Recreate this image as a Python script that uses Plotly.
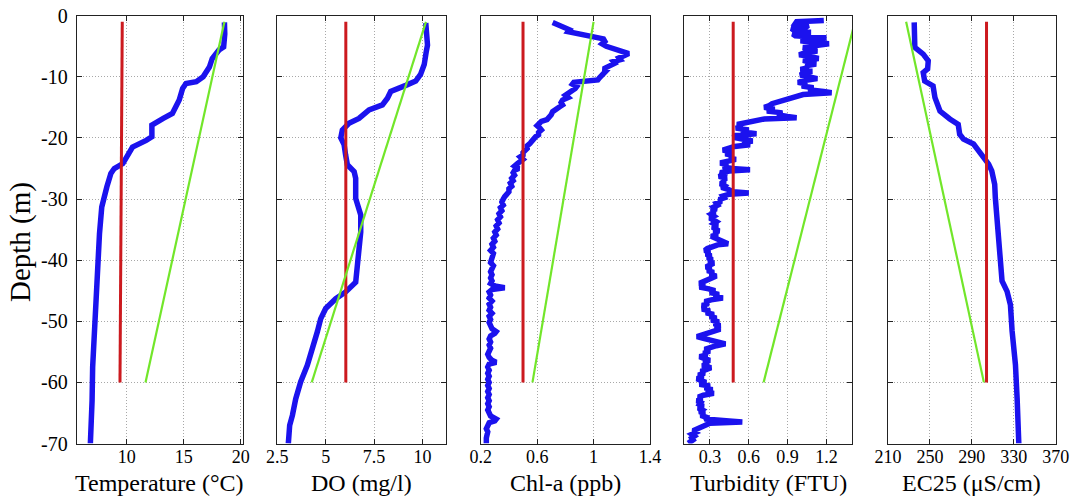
import plotly.graph_objects as go

# ---------------- data (depth in m, value) ----------------
temp_profile = [(-1.1, 18.57), (-3.0, 18.6), (-5.1, 18.5), (-5.6, 18.1), (-7.0, 17.5), (-8.4, 17.25),
                (-10.0, 16.7), (-10.8, 16.1), (-11.1, 15.2), (-11.9, 14.9), (-13.8, 14.6), (-16.0, 14.0),
                (-16.8, 13.2), (-17.6, 12.3), (-17.9, 12.2), (-19.8, 12.2), (-20.4, 11.7), (-21.5, 10.5),
                (-22.6, 10.1), (-24.2, 9.65), (-25.0, 8.9), (-25.8, 8.6), (-28.0, 8.25), (-30.2, 7.95),
                (-31.3, 7.8), (-35.7, 7.6), (-41.1, 7.45), (-46.6, 7.2), (-52.1, 7.1), (-57.5, 7.0),
                (-63.0, 6.95), (-70.0, 6.8)]

do_profile = [(-1.2, 10.17), (-2.6, 10.22), (-4.8, 10.26), (-5.8, 10.2), (-8.0, 10.09), (-9.6, 9.9),
              (-10.7, 9.65), (-11.4, 9.14), (-12.4, 8.36), (-13.5, 8.19), (-14.6, 7.93), (-15.4, 7.24),
              (-16.8, 6.72), (-17.6, 6.2), (-18.7, 5.86), (-20.0, 5.78), (-21.1, 5.95), (-22.8, 6.03),
              (-24.4, 6.12), (-25.5, 6.47), (-26.6, 6.55), (-29.9, 6.55), (-31.5, 6.67), (-32.6, 6.81),
              (-35.4, 6.81), (-38.1, 6.72), (-40.8, 6.64), (-43.6, 6.55), (-45.2, 6.03), (-46.3, 5.52),
              (-47.9, 5.0), (-49.6, 4.74), (-51.7, 4.57), (-54.5, 4.31), (-57.2, 4.05), (-59.9, 3.71),
              (-62.7, 3.45), (-65.4, 3.28), (-67.0, 3.14), (-70.0, 3.07)]

chl_profile = [(-1.1, 0.71), (-1.4, 0.74), (-1.8, 0.77), (-2.3, 0.83), (-2.6, 0.82), (-2.9, 0.89),
               (-3.2, 0.95), (-3.5, 0.98), (-3.8, 1.07), (-4.2, 1.08), (-4.6, 1.06), (-5.0, 1.09),
               (-5.3, 1.13), (-5.6, 1.18), (-5.9, 1.20), (-6.2, 1.25), (-6.5, 1.22), (-6.9, 1.18),
               (-7.2, 1.19), (-7.5, 1.14), (-7.8, 1.15), (-8.1, 1.12), (-8.4, 1.09), (-8.7, 1.07),
               (-9.0, 1.09), (-9.4, 1.07), (-9.8, 1.05), (-10.2, 1.04), (-10.5, 1.03), (-10.7, 0.95),
               (-10.9, 0.86), (-11.2, 0.85), (-11.6, 0.88), (-11.9, 0.87), (-12.3, 0.84), (-12.7, 0.82),
               (-13.0, 0.80), (-13.4, 0.82), (-13.8, 0.78), (-14.2, 0.77), (-14.6, 0.78), (-14.9, 0.76),
               (-15.3, 0.73), (-15.7, 0.71), (-16.2, 0.70), (-16.6, 0.68), (-17.0, 0.67), (-17.3, 0.63),
               (-17.6, 0.61), (-18.0, 0.60), (-18.4, 0.62), (-18.7, 0.63), (-19.1, 0.61), (-19.5, 0.61),
               (-19.8, 0.59), (-20.2, 0.57), (-20.6, 0.56), (-20.9, 0.55), (-21.3, 0.53), (-21.7, 0.53),
               (-22.0, 0.52), (-22.4, 0.50), (-22.8, 0.50), (-23.1, 0.48), (-23.5, 0.50), (-23.9, 0.47),
               (-24.2, 0.46), (-24.6, 0.44), (-25.0, 0.47), (-25.3, 0.44), (-25.7, 0.43), (-26.1, 0.44),
               (-26.6, 0.42), (-27.0, 0.43), (-27.4, 0.41), (-27.9, 0.42), (-28.3, 0.40), (-28.8, 0.40),
               (-29.2, 0.38), (-29.6, 0.37), (-30.0, 0.36), (-30.5, 0.35), (-31.0, 0.36), (-31.4, 0.34),
               (-31.9, 0.35), (-32.4, 0.33), (-32.9, 0.34), (-33.4, 0.32), (-33.9, 0.33), (-34.4, 0.31),
               (-34.9, 0.32), (-35.4, 0.30), (-35.9, 0.31), (-36.4, 0.29), (-36.9, 0.30), (-37.4, 0.28),
               (-37.9, 0.29), (-38.4, 0.27), (-38.9, 0.29), (-39.4, 0.28), (-39.9, 0.28), (-40.4, 0.27),
               (-40.9, 0.29), (-41.4, 0.28), (-41.9, 0.27), (-42.4, 0.28), (-42.9, 0.27), (-43.4, 0.28),
               (-43.8, 0.27), (-44.2, 0.30), (-44.5, 0.37), (-44.8, 0.28), (-45.2, 0.26), (-45.7, 0.27),
               (-46.2, 0.26), (-46.7, 0.28), (-47.2, 0.26), (-47.7, 0.27), (-48.2, 0.26), (-48.7, 0.28),
               (-49.2, 0.26), (-49.7, 0.27), (-50.2, 0.26), (-50.7, 0.27), (-51.2, 0.28), (-51.7, 0.31),
               (-52.0, 0.30), (-52.4, 0.27), (-52.9, 0.26), (-53.4, 0.27), (-53.9, 0.26), (-54.4, 0.27),
               (-54.9, 0.26), (-55.4, 0.25), (-55.9, 0.26), (-56.4, 0.28), (-56.7, 0.31), (-57.0, 0.26),
               (-57.5, 0.25), (-58.0, 0.26), (-58.5, 0.25), (-59.0, 0.26), (-59.5, 0.25), (-60.0, 0.26),
               (-60.5, 0.25), (-61.0, 0.26), (-61.5, 0.25), (-62.0, 0.26), (-62.5, 0.25), (-63.0, 0.26),
               (-63.5, 0.25), (-64.0, 0.26), (-64.5, 0.25), (-65.0, 0.26), (-65.5, 0.27), (-66.0, 0.31),
               (-66.3, 0.30), (-66.6, 0.26), (-67.1, 0.25), (-67.6, 0.24), (-68.1, 0.25), (-68.6, 0.24),
               (-69.1, 0.24), (-69.6, 0.24), (-70.0, 0.24)]

turb_profile = [(-0.8, 1.18), (-1.0, 0.97), (-1.3, 0.96), (-1.6, 1.06), (-1.9, 1.04), (-2.1, 0.93),
                (-2.4, 0.95), (-2.7, 1.08), (-3.0, 0.94), (-3.3, 0.96), (-3.6, 1.20), (-3.8, 1.10),
                (-4.1, 1.00), (-4.4, 1.10), (-4.6, 1.22), (-4.9, 1.12), (-5.2, 1.02), (-5.5, 1.06),
                (-5.8, 1.13), (-6.1, 1.03), (-6.4, 0.99), (-6.7, 1.08), (-7.0, 1.14), (-7.3, 1.02),
                (-7.6, 1.06), (-7.9, 1.12), (-8.2, 1.04), (-8.5, 1.06), (-8.8, 1.00), (-9.1, 1.09),
                (-9.4, 1.02), (-9.7, 1.00), (-10.0, 1.06), (-10.3, 1.13), (-10.6, 1.03), (-10.9, 0.98),
                (-11.2, 1.05), (-11.5, 1.01), (-11.8, 1.10), (-12.1, 1.06), (-12.4, 1.18), (-12.6, 1.24),
                (-12.9, 1.02), (-13.2, 0.97), (-13.5, 0.90), (-13.8, 0.88), (-14.1, 0.83), (-14.4, 0.78),
                (-14.7, 0.76), (-15.0, 0.72), (-15.3, 0.80), (-15.6, 0.74), (-15.9, 0.86), (-16.2, 0.82),
                (-16.5, 0.90), (-16.7, 0.97), (-16.9, 0.72), (-17.2, 0.64), (-17.5, 0.56), (-17.8, 0.51),
                (-18.1, 0.55), (-18.4, 0.50), (-18.7, 0.60), (-19.0, 0.54), (-19.3, 0.66), (-19.6, 0.50),
                (-19.9, 0.48), (-20.2, 0.57), (-20.5, 0.63), (-20.8, 0.55), (-21.1, 0.61), (-21.4, 0.49),
                (-21.7, 0.44), (-22.0, 0.40), (-22.3, 0.47), (-22.6, 0.42), (-22.9, 0.48), (-23.2, 0.45),
                (-23.5, 0.50), (-23.8, 0.41), (-24.1, 0.38), (-24.4, 0.44), (-24.7, 0.40), (-25.0, 0.47),
                (-25.2, 0.61), (-25.4, 0.45), (-25.7, 0.38), (-26.0, 0.40), (-26.3, 0.37), (-26.6, 0.43),
                (-26.9, 0.39), (-27.2, 0.42), (-27.5, 0.38), (-27.8, 0.41), (-28.1, 0.39), (-28.4, 0.44),
                (-28.8, 0.48), (-29.0, 0.60), (-29.2, 0.45), (-29.5, 0.40), (-29.8, 0.41), (-30.1, 0.37),
                (-30.4, 0.39), (-30.7, 0.35), (-31.0, 0.36), (-31.3, 0.33), (-31.6, 0.35), (-31.9, 0.31),
                (-32.2, 0.34), (-32.5, 0.31), (-32.8, 0.33), (-33.1, 0.30), (-33.4, 0.32), (-33.7, 0.35),
                (-34.0, 0.33), (-34.3, 0.36), (-34.6, 0.32), (-34.9, 0.35), (-35.2, 0.37), (-35.5, 0.33),
                (-35.8, 0.36), (-36.1, 0.31), (-36.4, 0.34), (-36.7, 0.38), (-37.0, 0.40), (-37.3, 0.44),
                (-37.5, 0.36), (-37.8, 0.31), (-38.1, 0.28), (-38.4, 0.26), (-38.7, 0.30), (-39.0, 0.27),
                (-39.3, 0.31), (-39.6, 0.28), (-39.9, 0.32), (-40.2, 0.29), (-40.5, 0.33), (-40.8, 0.30),
                (-41.1, 0.27), (-41.4, 0.31), (-41.7, 0.28), (-42.0, 0.33), (-42.3, 0.30), (-42.6, 0.35),
                (-42.9, 0.31), (-43.2, 0.28), (-43.5, 0.25), (-43.8, 0.22), (-44.1, 0.26), (-44.4, 0.22),
                (-44.7, 0.29), (-45.0, 0.34), (-45.3, 0.30), (-45.6, 0.37), (-45.9, 0.33), (-46.2, 0.40),
                (-46.5, 0.31), (-46.8, 0.26), (-47.1, 0.29), (-47.4, 0.24), (-47.7, 0.27), (-48.0, 0.24),
                (-48.3, 0.30), (-48.6, 0.27), (-48.9, 0.33), (-49.2, 0.30), (-49.5, 0.35), (-49.8, 0.31),
                (-50.1, 0.37), (-50.4, 0.33), (-50.7, 0.38), (-51.0, 0.34), (-51.3, 0.38), (-51.6, 0.33),
                (-51.9, 0.27), (-52.2, 0.22), (-52.5, 0.20), (-52.8, 0.25), (-53.1, 0.30), (-53.4, 0.36),
                (-53.7, 0.42), (-54.0, 0.35), (-54.3, 0.30), (-54.6, 0.26), (-54.9, 0.30), (-55.2, 0.25),
                (-55.5, 0.28), (-55.8, 0.22), (-56.1, 0.26), (-56.4, 0.30), (-56.7, 0.25), (-57.0, 0.29),
                (-57.3, 0.24), (-57.6, 0.31), (-57.9, 0.27), (-58.2, 0.23), (-58.5, 0.26), (-58.8, 0.21),
                (-59.1, 0.25), (-59.4, 0.20), (-59.7, 0.23), (-60.0, 0.27), (-60.3, 0.22), (-60.6, 0.30),
                (-60.9, 0.26), (-61.2, 0.32), (-61.5, 0.27), (-61.8, 0.33), (-62.1, 0.25), (-62.4, 0.21),
                (-62.7, 0.24), (-63.0, 0.20), (-63.3, 0.23), (-63.6, 0.22), (-63.9, 0.25), (-64.2, 0.21),
                (-64.5, 0.24), (-64.8, 0.22), (-65.1, 0.26), (-65.4, 0.23), (-65.7, 0.27), (-66.0, 0.26),
                (-66.3, 0.45), (-66.5, 0.55), (-66.7, 0.30), (-67.0, 0.26), (-67.3, 0.24), (-67.6, 0.19),
                (-67.9, 0.17), (-68.2, 0.19), (-68.5, 0.16), (-68.8, 0.18), (-69.1, 0.16), (-69.4, 0.17),
                (-69.7, 0.15), (-70.0, 0.16)]

ec_profile = [(-1.1, 235.0), (-5.2, 235.6), (-6.3, 243.6), (-7.4, 248.4), (-8.7, 247.8), (-9.3, 243.6),
              (-10.7, 245.0), (-11.5, 253.0), (-13.4, 254.8), (-15.6, 259.6), (-16.9, 269.0), (-17.8, 277.0),
              (-19.4, 278.4), (-20.2, 282.0), (-21.0, 291.6), (-22.7, 299.6), (-24.3, 306.0), (-25.4, 309.0),
              (-27.6, 311.8), (-29.8, 312.4), (-35.2, 315.0), (-40.7, 317.0), (-43.4, 318.8), (-45.1, 323.6),
              (-47.3, 326.8), (-51.6, 328.4), (-57.1, 331.6), (-62.6, 333.2), (-70.0, 334.8)]

# red (mean) and green (trend) reference lines: [top value, bottom value]
ref_depth = [-1.0, -60.0]
red_temp = [9.6, 9.4]
green_temp = [18.57, 11.64]
red_do = [6.04, 6.04]
green_do = [10.18, 4.28]
red_chl = [0.50, 0.50]
green_chl = [1.0, 0.567]
red_turb = [0.48, 0.48]
green_turb = [1.42, 0.715]
red_ec = [304.0, 304.0]
green_ec = [227.3, 301.5]

x_titles = ["Temperature (°C)", "DO (mg/l)", "Chl-a (ppb)", "Turbidity (FTU)", "EC25 (μS/cm)"]
x_ranges = [[5.6, 20.2], [2.5, 11.2], [0.2, 1.4], [0.1, 1.4], [210, 370]]
x_tickvals = [[10, 15, 20], [2.5, 5, 7.5, 10], [0.2, 0.6, 1, 1.4], [0.3, 0.6, 0.9, 1.2],
              [210, 250, 290, 330, 370]]
x_ticktext = [["10", "15", "20"], ["2.5", "5", "7.5", "10"], ["0.2", "0.6", "1", "1.4"],
              ["0.3", "0.6", "0.9", "1.2"], ["210", "250", "290", "330", "370"]]
y_tickvals = [0, -10, -20, -30, -40, -50, -60, -70]
y_ticktext = ["0", "-10", "-20", "-30", "-40", "-50", "-60", "-70"]

# ---------------- layout geometry (pixels) ----------------
W, H = 1075, 499
panel_px = [(76.7, 243.0), (277.3, 445.7), (480.7, 650.0), (684.0, 852.3), (888.0, 1055.7)]
y_top_px, y_bot_px = 15.7, 443.5

BLUE = "#1b12ee"
RED = "#cc1a1f"
GREEN = "#72e62a"
FONT = "Liberation Serif"

profiles = [temp_profile, do_profile, chl_profile, turb_profile, ec_profile]
reds = [red_temp, red_do, red_chl, red_turb, red_ec]
greens = [green_temp, green_do, green_chl, green_turb, green_ec]

fig = go.Figure()
for i in range(5):
    xa = "x" if i == 0 else f"x{i+1}"
    ya = "y" if i == 0 else f"y{i+1}"
    prof = profiles[i]
    fig.add_trace(go.Scatter(x=[p[1] for p in prof], y=[p[0] for p in prof], mode="lines",
                             line=dict(color=BLUE, width=5.5), xaxis=xa, yaxis=ya, showlegend=False))
    fig.add_trace(go.Scatter(x=reds[i], y=ref_depth, mode="lines",
                             line=dict(color=RED, width=3), xaxis=xa, yaxis=ya, showlegend=False))
    fig.add_trace(go.Scatter(x=greens[i], y=ref_depth, mode="lines",
                             line=dict(color=GREEN, width=2.2), xaxis=xa, yaxis=ya, showlegend=False))

layout = dict(width=W, height=H, margin=dict(l=0, r=0, t=0, b=0),
              paper_bgcolor="white", plot_bgcolor="white",
              font=dict(family=FONT, color="black", size=18), showlegend=False)

GRID = dict(showgrid=True, gridcolor="#a8a8a8", griddash="1px,2px", gridwidth=1,
            showline=True, linecolor="#222", linewidth=1, mirror="ticks",
            ticks="inside", ticklen=5, tickcolor="#222", zeroline=False, automargin=False)

ydom = [1 - y_bot_px / H, 1 - y_top_px / H]
annotations = []
for i in range(5):
    xk = "xaxis" if i == 0 else f"xaxis{i+1}"
    yk = "yaxis" if i == 0 else f"yaxis{i+1}"
    x0, x1 = panel_px[i]
    layout[xk] = dict(domain=[x0 / W, x1 / W], anchor="y" if i == 0 else f"y{i+1}",
                      range=x_ranges[i], tickvals=x_tickvals[i], ticktext=x_ticktext[i],
                      tickfont=dict(family=FONT, size=18), ticklabelstandoff=-3, **GRID)
    layout[yk] = dict(domain=ydom, anchor="x" if i == 0 else f"x{i+1}",
                      range=[-70, 0], tickvals=y_tickvals, ticktext=y_ticktext,
                      showticklabels=(i == 0),
                      tickfont=dict(family=FONT, size=20), ticklabelstandoff=4, **GRID)
    annotations.append(dict(text=x_titles[i], xref="paper", yref="paper",
                            x=(x0 + x1) / 2 / W, y=1 - 483 / H, xanchor="center", yanchor="middle",
                            showarrow=False, font=dict(family=FONT, size=24, color="black")))

annotations.append(dict(text="Depth (m)", xref="paper", yref="paper", x=20 / W, y=1 - 242 / H,
                        xanchor="center", yanchor="middle", textangle=-90, showarrow=False,
                        font=dict(family=FONT, size=29, color="black")))
layout["annotations"] = annotations
fig.update_layout(**layout)

fig.write_html("out.html")
